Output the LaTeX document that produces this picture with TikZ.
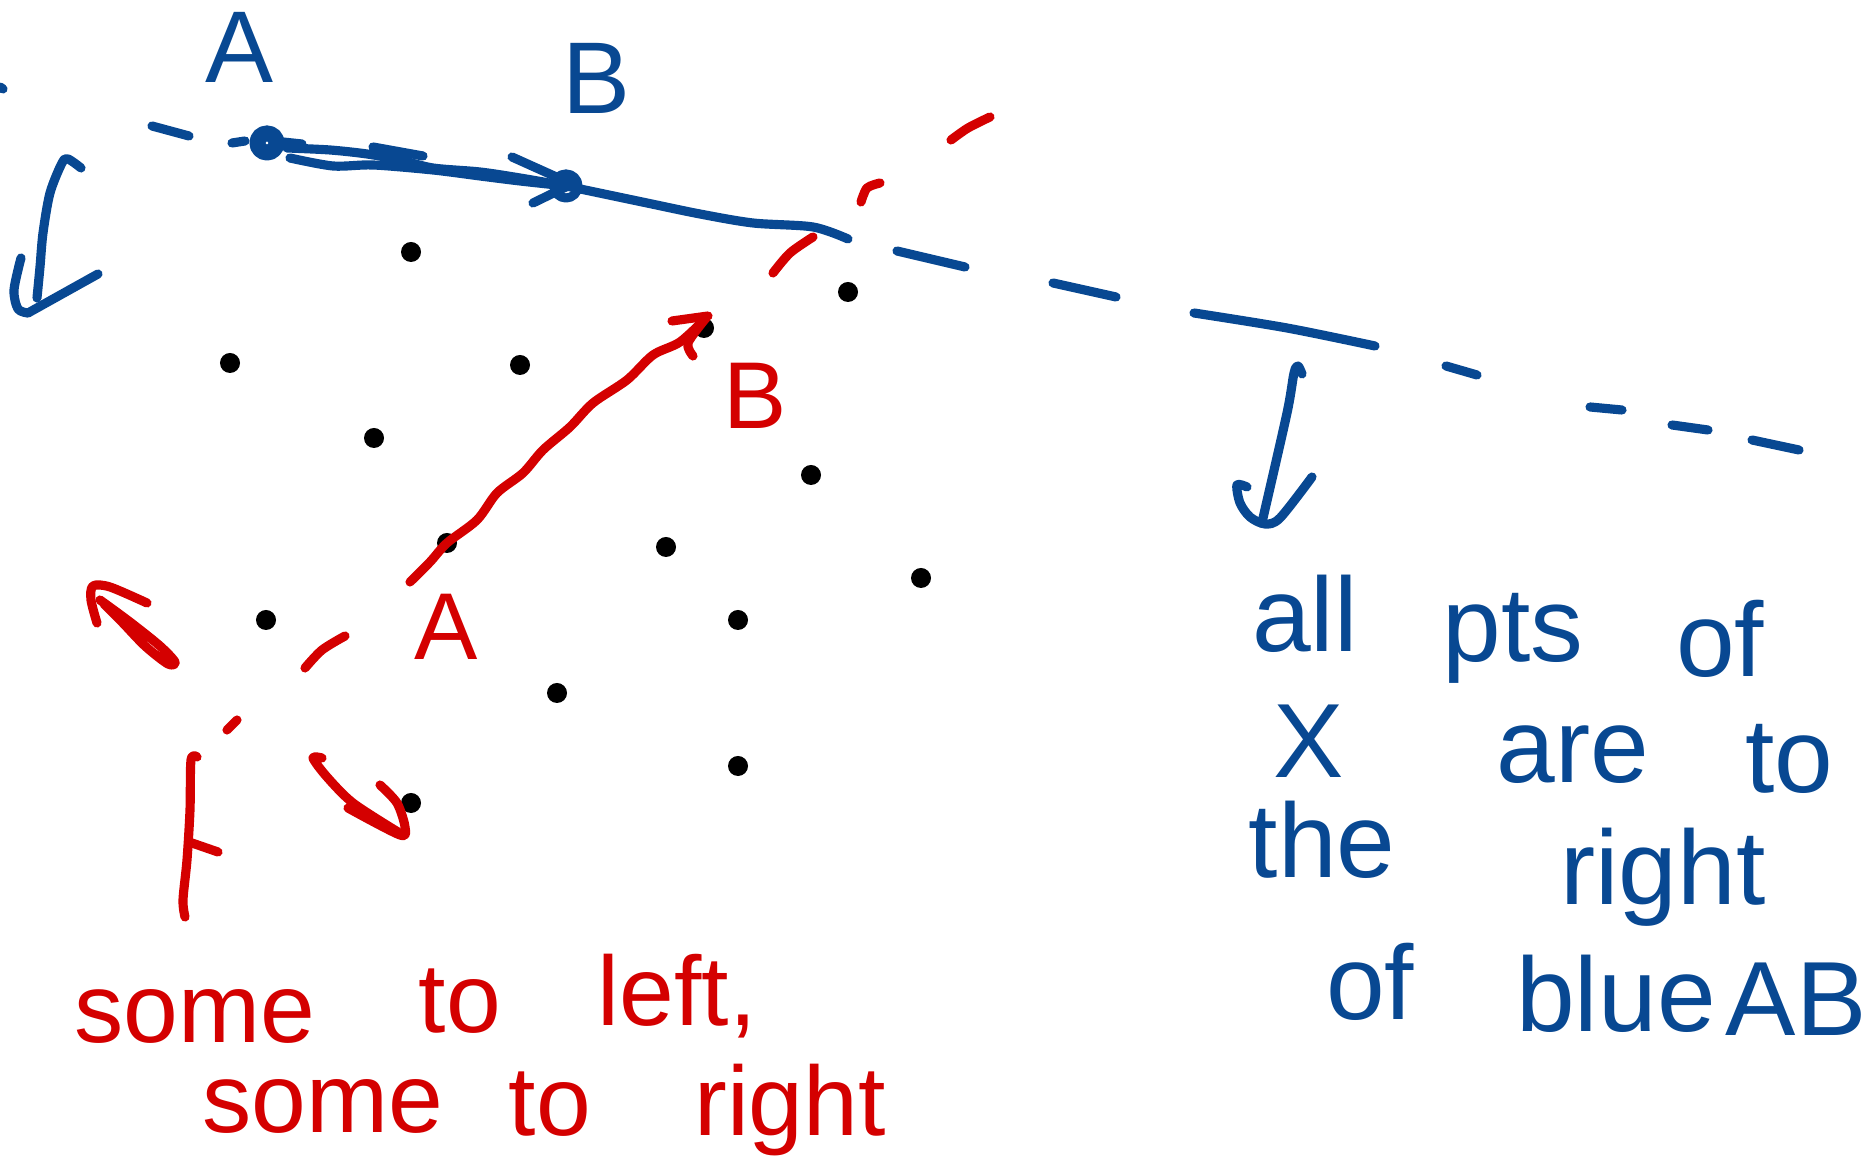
\documentclass[tikz,border=0pt]{standalone}
\usepackage{fontspec}
\setmainfont{Liberation Sans}
\usetikzlibrary{positioning,arrows.meta}
\definecolor{penblue}{RGB}{8,72,146}
\definecolor{penred}{RGB}{212,0,0}
\tikzset{
  ptdot/.style={circle,fill=black,inner sep=0pt,minimum size=0.2cm},
  bluepen/.style={draw=penblue,line width=2.6pt,line cap=round,line join=round},
  redpen/.style={draw=penred,line width=2.6pt,line cap=round,line join=round},
  bluetxt/.style={text=penblue,font=\fontsize{30}{32}\selectfont,inner sep=0pt,anchor=base},
  redtxt/.style={text=penred,font=\fontsize{28}{30}\selectfont,inner sep=0pt,anchor=base},
  bluelbl/.style={text=penblue,font=\fontsize{29}{31}\selectfont,inner sep=0pt},
  redlbl/.style={text=penred,font=\fontsize{27}{29}\selectfont,inner sep=0pt},
}

\begin{document}
\begin{tikzpicture}[x=0.01cm,y=-0.01cm]
  \useasboundingbox (0,0) rectangle (1870,1174);
  \node[ptdot] (q1)  at (411,252) {};
  \node[ptdot] (q2)  at (848,292) {};
  \node[ptdot] (ptB) at (704,328) {};
  \node[ptdot] (q3)  at (230,363) {};
  \node[ptdot] (q4)  at (520,365) {};
  \node[ptdot] (q5)  at (374,438) {};
  \node[ptdot] (q6)  at (811,475) {};
  \node[ptdot] (ptA) at (447,543) {};
  \node[ptdot] (q7)  at (666,547) {};
  \node[ptdot] (q8)  at (921,578) {};
  \node[ptdot] (q9)  at (266,620) {};
  \node[ptdot] (q10) at (738,620) {};
  \node[ptdot] (q11) at (557,693) {};
  \node[ptdot] (q12) at (738,766) {};
  \node[ptdot] (q13) at (411,803) {};

  \node[bluelbl] (blueA) at (240,47) {A};
  \node[bluelbl] (blueB) at (597,78) {B};
  \node[redlbl] (redA) at (446,627) {A};
  \node[redlbl] (redB) at (755,396) {B};

  \coordinate (bA) at (267,143);
  \coordinate (bB) at (566,186);
  \draw[bluepen] (0,87) -- (3,89);
  \draw[bluepen] (152,126) -- (189,136);
  \draw[bluepen] (232,143) -- (245,141);
  \draw[bluepen] (bA) circle[radius=0.13cm];
  \draw[bluepen] (bA) circle[radius=0.06cm];
  \draw[bluepen] (283,142) -- (302,144);
  \draw[bluepen] (373,147) -- (423,156);
  \draw[bluepen] plot[smooth] coordinates {(287,148) (330,150) (367,154) (400,160) (433,168) (480,172) (520,178) (bB)};
  \draw[bluepen] plot[smooth] coordinates {(290,158) (333,166) (373,165) (433,170) (480,176) (520,181) (bB)};
  \draw[bluepen] (512,157) -- (572,184) -- (533,203);
  \draw[bluepen] (bB) circle[radius=0.12cm];
  \draw[bluepen] plot[smooth] coordinates {(bB) (647,203) (700,214) (753,223) (813,227) (848,239)};
  \draw[bluepen] (897,251) -- (965,267);
  \draw[bluepen] (1053,283) -- (1116,297);
  \draw[bluepen] plot[smooth] coordinates {(1194,313) (1287,328) (1375,346)};
  \draw[bluepen] (1446,366) -- (1477,375);
  \draw[bluepen] (1590,407) -- (1622,410);
  \draw[bluepen] (1672,425) -- (1708,430);
  \draw[bluepen] (1752,440) -- (1799,450);

  \draw[bluepen] plot[smooth] coordinates {(81,168) (68,159) (62,163) (50,193) (43,233) (40,267) (37,298)};
  \draw[bluepen] plot[smooth] coordinates {(21,258) (14,290) (18,309) (28,313)};
  \draw[bluepen] (28,313) -- (98,274);
  \draw[bluepen] plot[smooth] coordinates {(1302,374) (1298,366) (1294,373) (1287,413) (1263,518)};
  \draw[bluepen] plot[smooth] coordinates {(1247,487) (1237,485) (1240,503) (1250,517) (1265,524) (1280,518) (1312,477)};

  \draw[redpen] plot[smooth] coordinates {(951,140) (968,128) (990,117)};
  \draw[redpen] plot[smooth] coordinates {(861,202) (867,188) (880,183)};
  \draw[redpen] plot[smooth] coordinates {(773,273) (790,253) (813,237)};
  \draw[redpen] plot[smooth] coordinates {(410,582) (430,562) (ptA) (477,520) (497,493) (523,473) (543,450) (570,427) (593,403) (627,380) (653,355) (680,342) (706,318)};
  \draw[redpen] (672,321) -- (708,316);
  \draw[redpen] plot[smooth] coordinates {(693,356) (688,343) (706,318)};
  \draw[redpen] plot[smooth] coordinates {(305,668) (322,650) (345,636)};
  \draw[redpen] (227,730) -- (237,720);

  \draw[redpen] plot[smooth] coordinates {(100,600) (130,622) (160,646) (175,662) (168,664) (145,646) (122,622) (104,604)};
  \draw[redpen] plot[smooth] coordinates {(97,623) (91,600) (93,586) (110,587) (147,603)};
  \draw[redpen] plot[smooth] coordinates {(322,758) (313,758) (327,777) (353,803) (398,832)};
  \draw[redpen] plot[smooth] coordinates {(380,785) (397,803) (405,827) (400,835) (348,808)};
  \draw[redpen] plot[smooth] coordinates {(197,757) (191,760) (190,810) (187,860) (183,900) (185,917)};
  \draw[redpen] (192,843) -- (218,852);

  \node[redtxt] (w1) at (195,1043) {some};
  \node[redtxt] (w2) at (460,1033) {to};
  \node[redtxt] (w3) at (677,1025) {left,};
  \node[redtxt] (w4) at (323,1133) {some};
  \node[redtxt] (w5) at (550,1135) {to};
  \node[redtxt] (w6) at (790,1135) {right};

  \node[bluetxt] (t1)  at (1305,652)  {all};
  \node[bluetxt] (t2)  at (1513,662)  {pts};
  \node[bluetxt] (t3)  at (1720,677)  {of};
  \node[bluetxt] (t4)  at (1309,778)  {X};
  \node[bluetxt] (t5)  at (1573,783)  {are};
  \node[bluetxt] (t6)  at (1789,793)  {to};
  \node[bluetxt] (t7)  at (1322,878)  {the};
  \node[bluetxt] (t8)  at (1663,905)  {right};
  \node[bluetxt] (t9)  at (1370,1020) {of};
  \node[bluetxt] (t10) at (1616,1032) {blue};
  \node[bluetxt] (t11) at (1796,1035) {AB};
\end{tikzpicture}
\end{document}
